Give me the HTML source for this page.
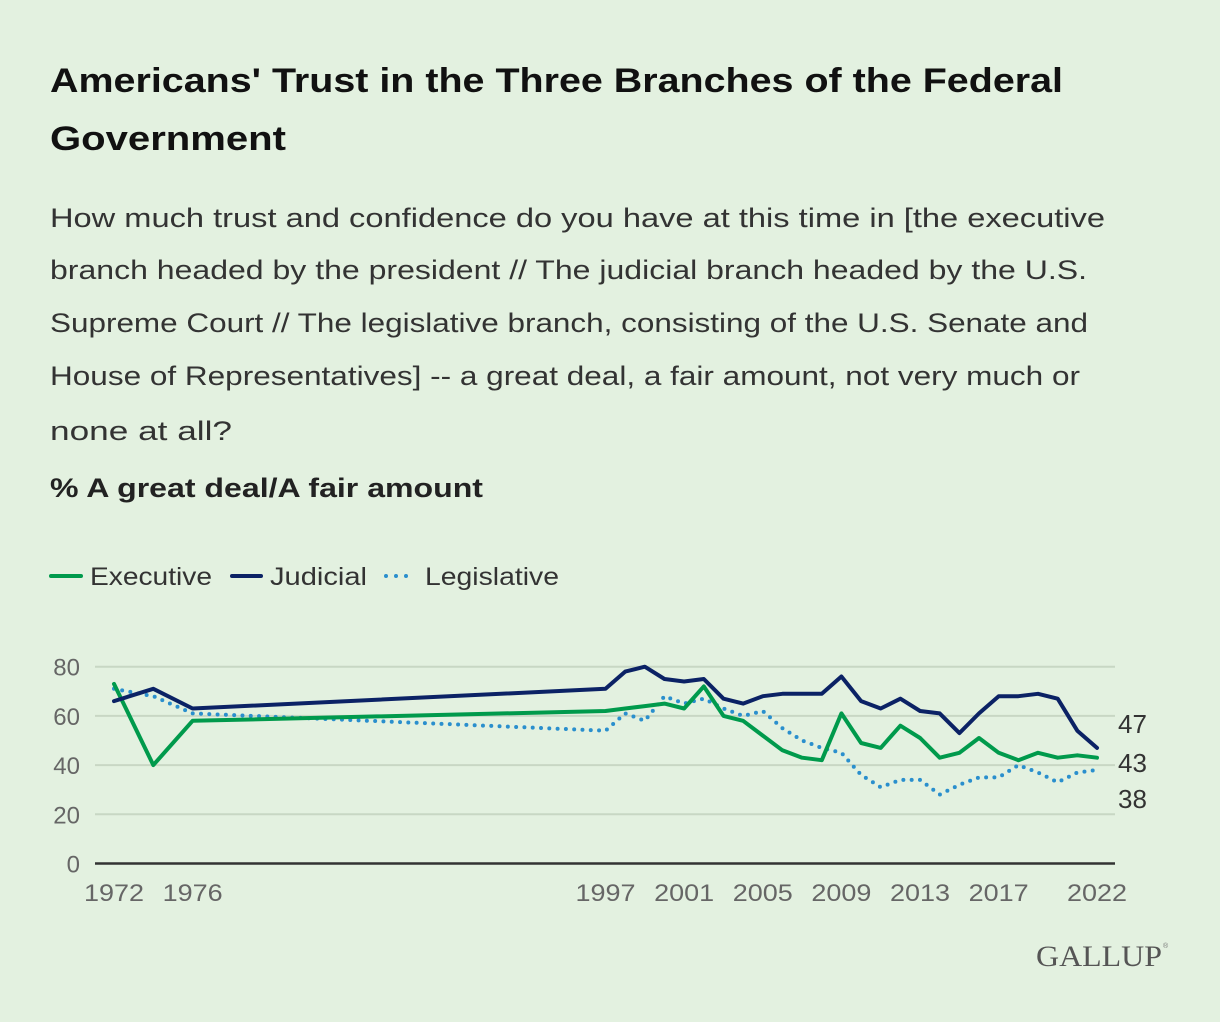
<!DOCTYPE html>
<html><head><meta charset="utf-8"><style>
html,body{margin:0;padding:0;background:#e3f1e0;}
svg{display:block;font-family:"Liberation Sans",sans-serif;}
</style></head><body>
<svg id="chart" width="1220" height="1022" viewBox="0 0 1220 1022" xmlns="http://www.w3.org/2000/svg">
<rect width="1220" height="1022" fill="#e3f1e0"/>
<g font-weight="bold" font-size="34" fill="#111">
<text x="50" y="92" textLength="1013" lengthAdjust="spacingAndGlyphs">Americans' Trust in the Three Branches of the Federal</text>
<text x="50" y="150" textLength="236" lengthAdjust="spacingAndGlyphs">Government</text>
</g>
<g font-size="27" fill="#333">
<text x="50" y="227" textLength="1055" lengthAdjust="spacingAndGlyphs">How much trust and confidence do you have at this time in [the executive</text>
<text x="50" y="279" textLength="1037" lengthAdjust="spacingAndGlyphs">branch headed by the president // The judicial branch headed by the U.S.</text>
<text x="50" y="332" textLength="1038" lengthAdjust="spacingAndGlyphs">Supreme Court // The legislative branch, consisting of the U.S. Senate and</text>
<text x="50" y="385" textLength="1030" lengthAdjust="spacingAndGlyphs">House of Representatives] -- a great deal, a fair amount, not very much or</text>
<text x="50" y="440" textLength="182" lengthAdjust="spacingAndGlyphs">none at all?</text>
</g>
<text x="50" y="497" font-size="27" font-weight="bold" fill="#222" textLength="433" lengthAdjust="spacingAndGlyphs">% A great deal/A fair amount</text>
<g font-size="25" fill="#333">
<g>
<line x1="51" y1="576" x2="81" y2="576" stroke="#009a4c" stroke-width="4" stroke-linecap="round"/>
<text x="90" y="585" textLength="122" lengthAdjust="spacingAndGlyphs">Executive</text></g>
<g>
<line x1="232" y1="576" x2="261" y2="576" stroke="#0b2265" stroke-width="4" stroke-linecap="round"/>
<text x="270" y="585" textLength="97" lengthAdjust="spacingAndGlyphs">Judicial</text></g>
<g>
<line x1="386" y1="576" x2="416" y2="576" stroke="#2a8fcd" stroke-width="4" stroke-linecap="round" stroke-dasharray="0 10"/>
<text x="425" y="585" textLength="134" lengthAdjust="spacingAndGlyphs">Legislative</text></g>
</g>
<g id="grid"></g>
<g id="yticks" font-size="24" fill="#666" text-anchor="end"></g>
<g id="xticks" font-size="24" fill="#666" text-anchor="middle"></g>
<g id="series"></g>
<g id="endlabels" font-size="26" fill="#333"></g>
<g>
<text x="1036" y="966" font-family="Liberation Serif,serif" font-size="30" fill="#555" textLength="126" lengthAdjust="spacingAndGlyphs">GALLUP</text>
<text x="1163" y="948" font-size="7" fill="#777">®</text>
</g>
</svg>
<script>
const years = [1972,1974,1976,1997,1998,1999,2000,2001,2002,2003,2004,2005,2006,2007,2008,2009,2010,2011,2012,2013,2014,2015,2016,2017,2018,2019,2020,2021,2022];
const executive = [73,40,58,62,63,64,65,63,72,60,58,52,46,43,42,61,49,47,56,51,43,45,51,45,42,45,43,44,43];
const judicial = [66,71,63,71,78,80,75,74,75,67,65,68,69,69,69,76,66,63,67,62,61,53,61,68,68,69,67,54,47];
const legislative = [71,68,61,54,61,58,68,65,67,63,60,62,55,50,47,45,36,31,34,34,28,32,35,35,40,37,33,37,38];
const yTicks = [0,20,40,60,80];
const xTicks = [1972,1976,1997,2001,2005,2009,2013,2017,2022];

const NS = "http://www.w3.org/2000/svg";
const X0 = 114, X1 = 1097, Y0 = 863.5, Y80 = 666.7;
function xs(yr){ return X0 + (yr - 1972) * (X1 - X0) / 50; }
function ys(v){ return Y0 - v * (Y0 - Y80) / 80; }
function mk(tag, attrs, parent){ const e = document.createElementNS(NS, tag); for (const k in attrs) e.setAttribute(k, attrs[k]); parent.appendChild(e); return e; }

const grid = document.getElementById('grid');
const yt = document.getElementById('yticks');
yTicks.forEach(t => {
  const l = mk('line', {x1:95, x2:1115, y1:ys(t), y2:ys(t), stroke: t===0 ? '#333' : '#c8d7c4', 'stroke-width': t===0 ? 2.5 : 2}, grid);
  
  
  const tx = mk('text', {x:80, y:ys(t)+9}, yt);
  tx.textContent = t;
  
  
});
const xt = document.getElementById('xticks');
xTicks.forEach(t => {
  const tx = mk('text', {x:xs(t), y:901, textLength:60, lengthAdjust:'spacingAndGlyphs'}, xt);
  tx.textContent = t;
  
  
});
const sg = document.getElementById('series');
function drawSeries(vals, color, name, dotted){
  const d = vals.map((v,i) => (i ? 'L' : 'M') + xs(years[i]).toFixed(1) + ',' + ys(v).toFixed(1)).join(' ');
  const attrs = {d:d, fill:'none', stroke:color, 'stroke-width':4, 'stroke-linejoin':'round', 'stroke-linecap':'round'};
  if (dotted) attrs['stroke-dasharray'] = '0 8.3';
  const p = mk('path', attrs, sg);
  
  
}
drawSeries(legislative, '#2a8fcd', 'legislative-line', true);
drawSeries(executive, '#009a4c', 'executive-line', false);
drawSeries(judicial, '#0b2265', 'judicial-line', false);

const el = document.getElementById('endlabels');
const ends = [[judicial, 'judicial-end-label', 724], [executive, 'executive-end-label', 763], [legislative, 'legislative-end-label', 799]];
ends.forEach(e => {
  const tx = mk('text', {x:1118, y:e[2]+9}, el);
  tx.textContent = e[0][e[0].length-1];
  
  
});
</script>
</body></html>
